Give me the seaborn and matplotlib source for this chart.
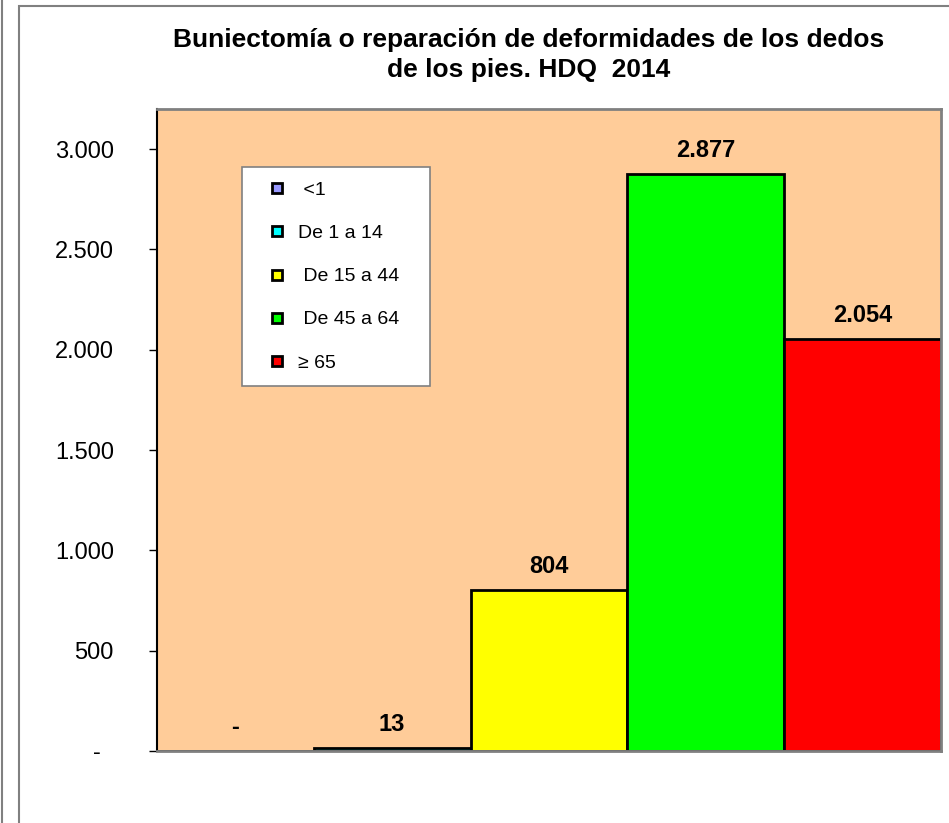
import matplotlib
matplotlib.use("Agg")
import matplotlib.pyplot as plt
from matplotlib.lines import Line2D
from matplotlib.patches import Rectangle
import pandas as pd
import seaborn as sns

# data
groups = ["<1", "De 1 a 14", "De 15 a 44", "De 45 a 64", "≥ 65"]
counts = [0, 13, 804, 2877, 2054]
colors = ["#9999FF", "#00FFFF", "#FFFF00", "#00FF00", "#FF0000"]
yticks = [0, 500, 1000, 1500, 2000, 2500, 3000]
title = "Buniectomía o reparación de deformidades de los dedos\nde los pies. HDQ  2014"


def fmt(v):
    # Spanish thousands separator, dash for zero
    if v == 0:
        return "-"
    return f"{v:,}".replace(",", ".")


sns.set_style("white")
plt.rcParams["font.family"] = ["Liberation Sans", "DejaVu Sans"]
plt.rcParams["text.color"] = "black"
plt.rcParams["ytick.color"] = "black"

df = pd.DataFrame({"grupo": groups, "n": counts})

fig = plt.figure(figsize=(9.49, 8.23), dpi=100)
ax = fig.add_axes([0.1654, 0.0875, 0.8261, 0.7800])
ax.set_facecolor("#FFCC99")

sns.barplot(
    data=df, x="grupo", y="n", hue="grupo", palette=colors, saturation=1,
    width=1.0, edgecolor="black", linewidth=2.0, legend=False, ax=ax,
)

ax.set_xlim(-0.5, len(groups) - 0.5)
ax.set_ylim(0, 3200)
ax.set_yticks(yticks)
ax.set_yticklabels([fmt(t) + ("  " if t == 0 else "") for t in yticks], fontsize=17)
ax.set_xticks([])
ax.set_xlabel("")
ax.set_ylabel("")
ax.tick_params(axis="y", direction="out", length=6, width=1, color="black", pad=25, left=True)

for s in ["top", "right", "bottom"]:
    ax.spines[s].set_color("#808080")
    ax.spines[s].set_linewidth(2)
ax.spines["left"].set_color("black")
ax.spines["left"].set_linewidth(1.5)

for i, v in enumerate(counts):
    ax.annotate(fmt(v), (i, v), xytext=(0, 17), textcoords="offset points",
                ha="center", va="center", fontsize=17, fontweight="bold")

fig.suptitle(title, x=0.557, y=0.966, fontsize=19, fontweight="bold", linespacing=1.3)

handles = [Line2D([], [], marker="s", linestyle="none", markersize=7.5,
                  markerfacecolor=c, markeredgecolor="black", markeredgewidth=2.0)
           for c in colors]
leg = ax.legend(handles, [" " + g if i in (0, 2, 3) else g for i, g in enumerate(groups)],
                loc="upper left", bbox_to_anchor=(0.108, 0.6, 0.2398, 0.3097),
                mode="expand", fontsize=14,
                frameon=True, fancybox=False, framealpha=1, edgecolor="#808080",
                labelspacing=1.31, handletextpad=0.05, borderpad=0.75,
                handlelength=2.1, borderaxespad=0)
leg.get_frame().set_linewidth(1.2)

# outer chart frames
fig.add_artist(Rectangle((19 / 949, -0.1), 1.0, 1.1 - 6 / 823, transform=fig.transFigure,
                         fill=False, edgecolor="#808080", linewidth=1.5))
fig.add_artist(Line2D([1.5 / 949, 1.5 / 949], [0, 1], transform=fig.transFigure,
                      color="#808080", linewidth=1.5))

fig.savefig("out.png", dpi=100)
